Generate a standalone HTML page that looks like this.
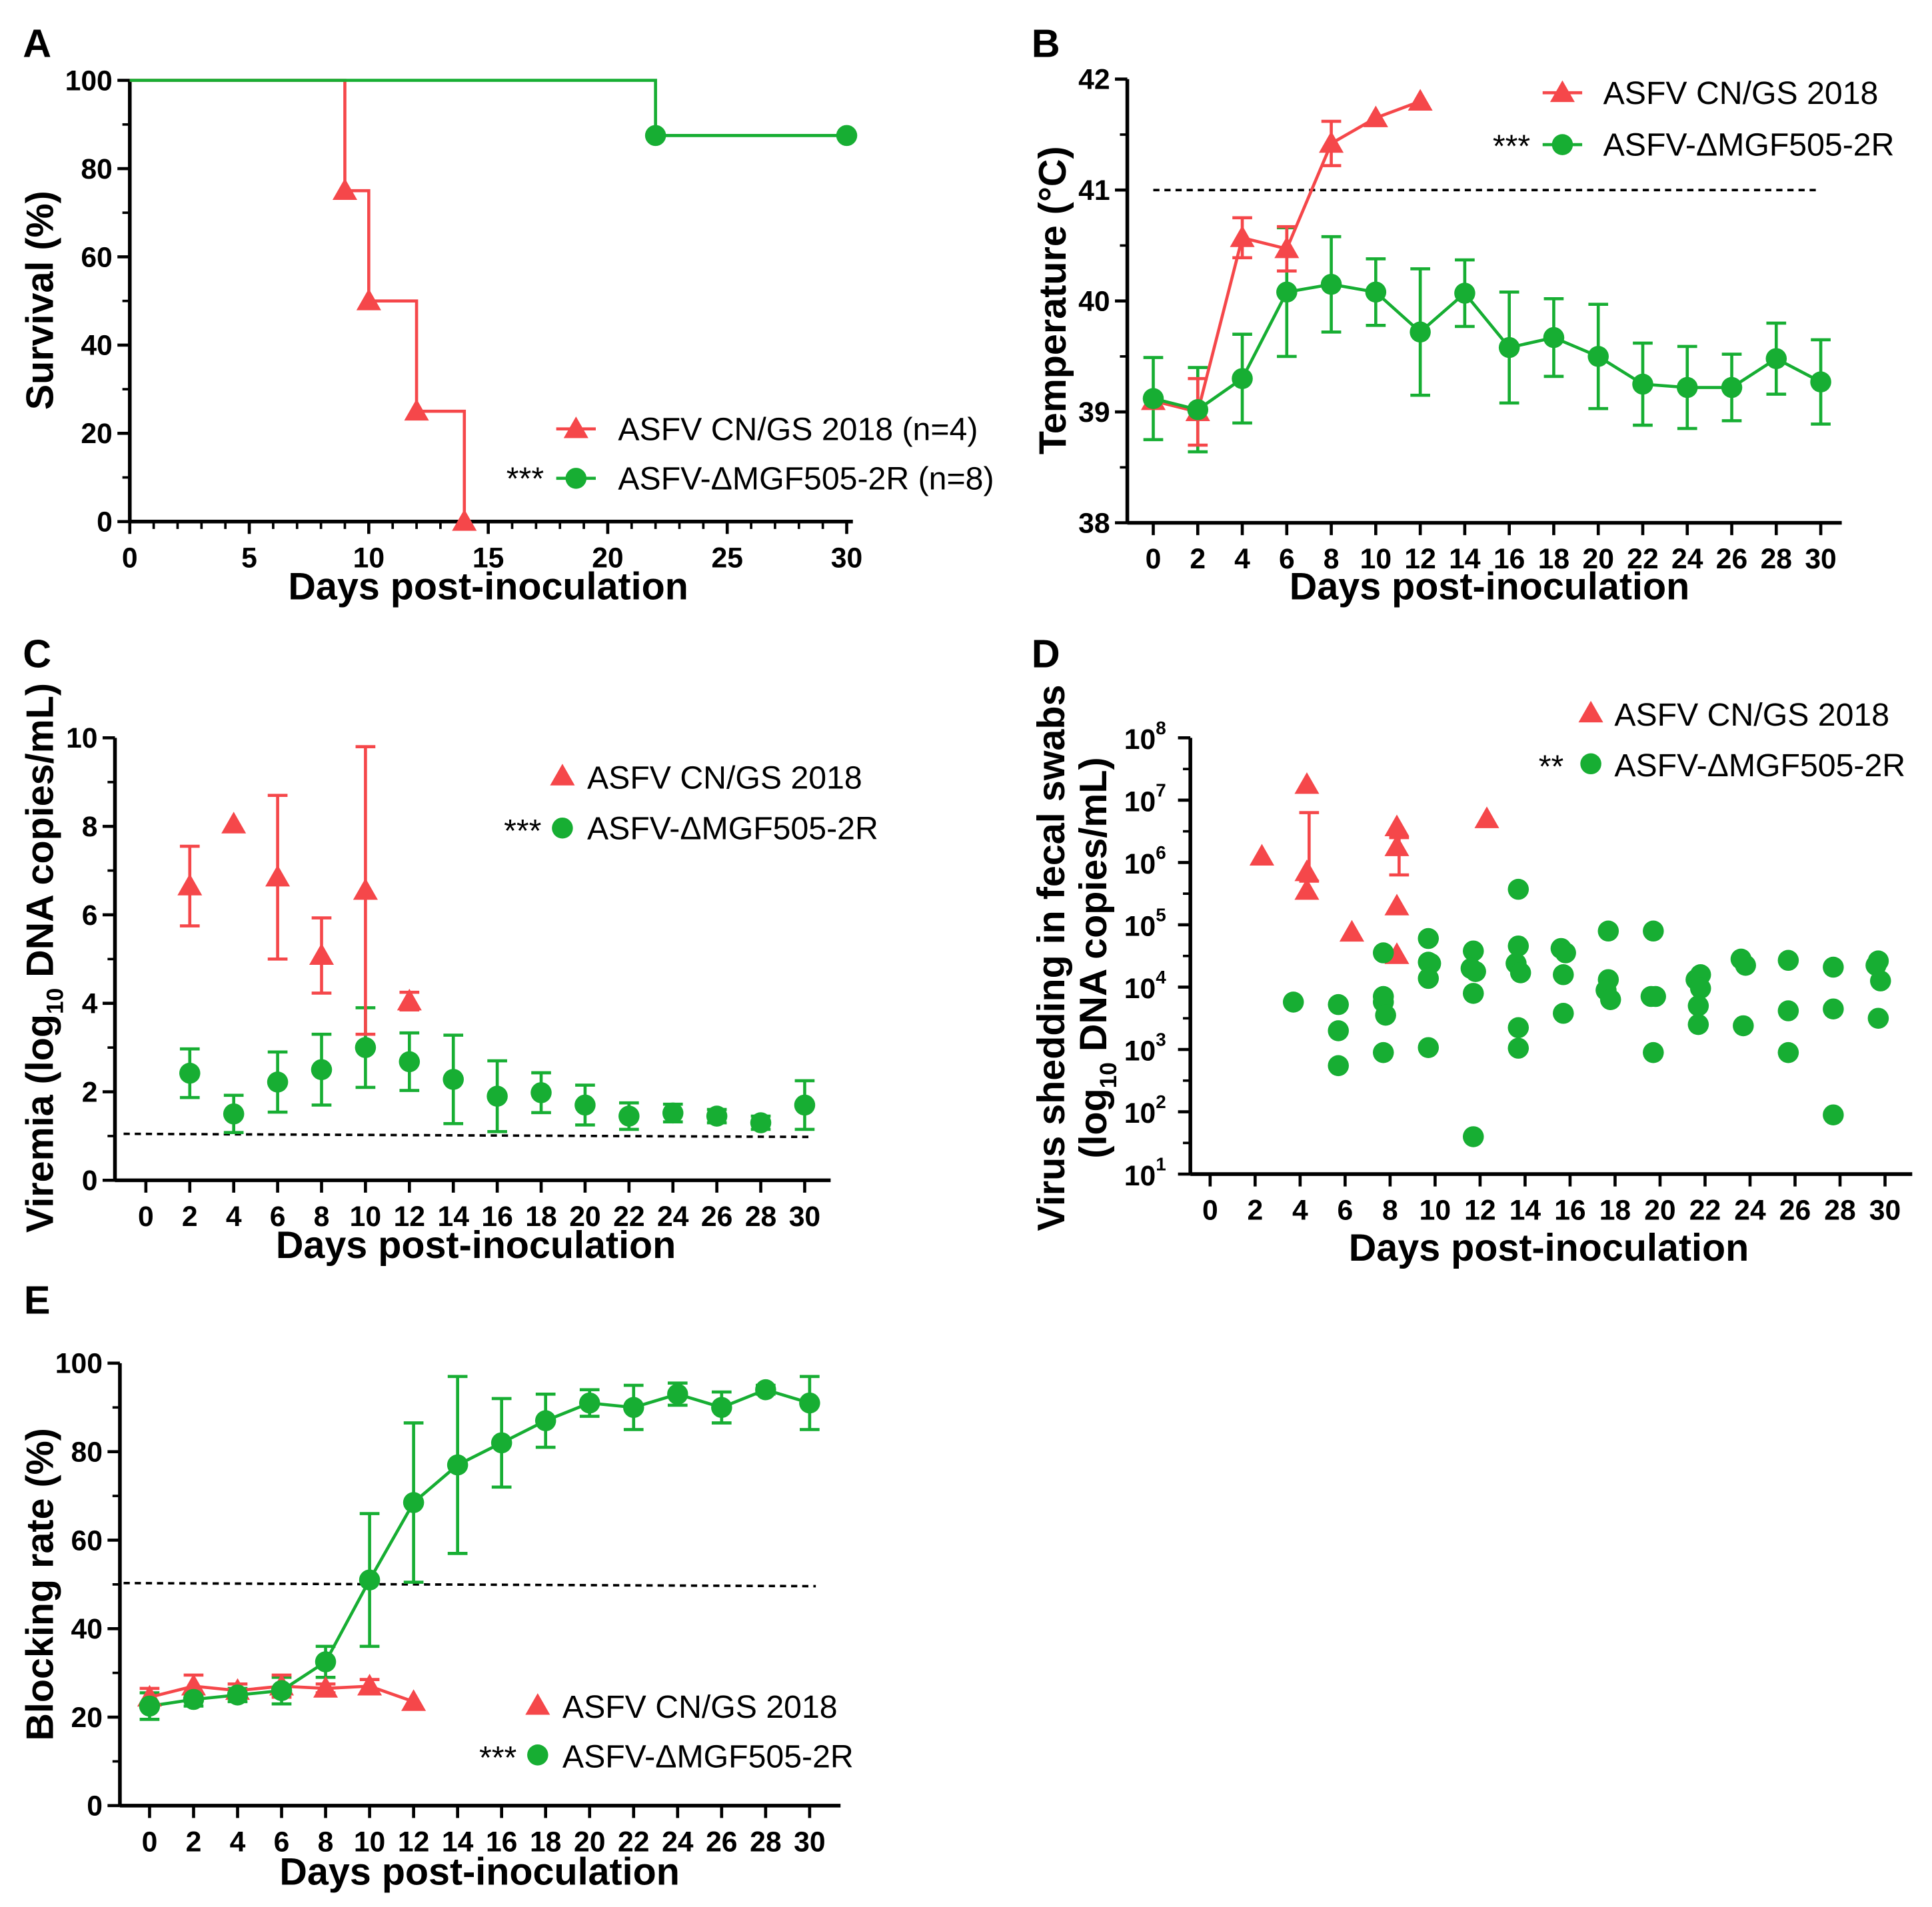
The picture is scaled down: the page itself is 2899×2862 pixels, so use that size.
<!DOCTYPE html>
<html><head><meta charset="utf-8"><style>
html,body{margin:0;padding:0;background:#fff}
svg{display:block}
text{font-family:"Liberation Sans",Arial,sans-serif}
.tk{font-weight:bold;font-size:23px}
.tt{font-weight:bold;font-size:31px}
.lg{font-size:26px}
.pl{font-weight:bold;font-size:32px}
</style></head><body>
<svg id="fig" width="2899" height="2862" viewBox="0 0 1563 1543" xmlns="http://www.w3.org/2000/svg"></svg>
<script>
const RED='#f5474a', GREEN='#17ae33';
// Panel A
const aRedDays=[9,10,12,14], aRedVals=[75,50,25,0];
const aGreenDays=[22,30], aGreenVals=[87.5,87.5];
// Panel B
const bRedDays=[0,2,4,6,8,10,12], bRedVals=[39.1,39.0,40.57,40.47,41.42,41.65,41.8], bRedErr=[0,0.3,0.18,0.2,0.2,0,0];
const bGreenDays=[0,2,4,6,8,10,12,14,16,18,20,22,24,26,28,30];
const bGreenVals=[39.12,39.02,39.3,40.08,40.15,40.08,39.72,40.07,39.58,39.67,39.5,39.25,39.22,39.22,39.48,39.27];
const bGreenErr=[0.37,0.38,0.4,0.58,0.43,0.3,0.57,0.3,0.5,0.35,0.47,0.37,0.37,0.3,0.32,0.38];
// Panel C
const cRedDays=[2,4,6,8,10,12], cRedVals=[6.65,8.05,6.85,5.08,6.55,4.05], cRedErr=[0.9,0,1.85,0.85,3.25,0.2];
const cGreenDays=[2,4,6,8,10,12,14,16,18,20,22,24,26,28,30];
const cGreenVals=[2.42,1.5,2.22,2.5,3.0,2.68,2.28,1.9,1.98,1.7,1.45,1.52,1.45,1.3,1.7];
const cGreenErr=[0.55,0.42,0.68,0.8,0.9,0.65,1.0,0.8,0.45,0.45,0.3,0.2,0.15,0.15,0.55];
// Panel D (day position, log10 value)
const dRedDays=[2.3,4.3,4.3,4.3,6.3,8.3,8.3,8.3,8.3,12.3];
const dRedVals=[6.1,7.25,5.85,5.55,4.88,6.57,6.25,5.3,4.52,6.7];
const dGreenDays=[3.7,5.7,5.7,5.7,7.7,7.7,7.7,7.8,7.7,9.7,9.7,9.8,9.7,9.7,11.7,11.6,11.8,11.7,11.7,13.7,13.7,13.6,13.8,13.7,13.7,15.6,15.8,15.7,15.7,17.7,17.7,17.6,17.8,19.7,19.6,19.8,19.7,21.6,21.8,21.8,21.7,21.7,23.6,23.8,23.7,25.7,25.7,25.7,27.7,27.7,27.7,29.6,29.7,29.8,29.7];
const dGreenVals=[3.76,3.72,3.3,2.74,4.55,3.76,3.85,3.55,2.95,4.78,4.4,4.38,4.14,3.03,4.58,4.3,4.25,3.9,1.6,5.57,4.66,4.38,4.23,3.35,3.02,4.62,4.55,4.2,3.58,4.9,4.12,3.95,3.8,4.9,3.85,3.85,2.95,4.12,4.2,3.98,3.7,3.4,4.45,4.35,3.38,4.43,3.62,2.95,4.32,3.65,1.95,4.35,4.42,4.1,3.5];
// Panel E
const eRedDays=[0,2,4,6,8,10,12], eRedVals=[24.5,27,26,27,26.5,27,23.5], eRedErr=[2,2.5,1.5,2.5,1,1.5,0];
const eGreenDays=[0,2,4,6,8,10,12,14,16,18,20,22,24,26,28,30];
const eGreenVals=[22.5,24,25,26,32.5,51,68.5,77,82,87,91,90,93,90,94,91];
const eGreenErr=[3,1.5,1.5,3,3.5,15,18,20,10,6,3,5,2.5,3.5,1,6];

const svg=document.getElementById('fig');
const NS='http://www.w3.org/2000/svg';
function mk(tag,attrs,txt){const e=document.createElementNS(NS,tag);for(const k in attrs)e.setAttribute(k,attrs[k]);if(txt!==undefined)e.textContent=txt;svg.appendChild(e);return e;}
function lin(d0,d1,p0,p1){return v=>p0+(v-d0)*(p1-p0)/(d1-d0);}
function line(x1,y1,x2,y2,c,w,name,dash){const e=mk('line',{x1,y1,x2,y2,stroke:c,'stroke-width':w});if(dash)e.setAttribute('stroke-dasharray',dash);

return e;}
function txt(x,y,s,cls,name,anchor,rot){const e=mk('text',{x,y,class:cls,'text-anchor':anchor||'middle'},s);if(rot)e.setAttribute('transform',`rotate(-90 ${x} ${y})`);

return e;}
function circ(x,y,c,name){const e=mk('circle',{cx:x,cy:y,r:8.5,fill:c});

return e;}
function tri(x,y,c,name){const s=10;const e=mk('polygon',{points:`${x},${y-s} ${x-s},${y+s*0.75} ${x+s},${y+s*0.75}`,fill:c});

return e;}
function err(x,y,yl,yh,c,name){line(x,yl,x,yh,c,2.5,name);line(x-8,yl,x+8,yl,c,2.5,name+'-cap');line(x-8,yh,x+8,yh,c,2.5,name+'-cap');}
function poly(pts,c,name){const e=mk('polyline',{points:pts.map(p=>p.join(',')).join(' '),fill:'none',stroke:c,'stroke-width':2.5});

}
function axes(o){
 line(o.ax,o.yT,o.ax,o.ay,'#000',3,'y-axis-line');
 line(o.xL,o.ay,o.xR,o.ay,'#000',3,'x-axis-line');
 o.xticks.forEach(t=>{const x=o.X(t);line(x,o.ay,x,o.ay+10,'#000',2.5,'x-tick');txt(x,o.ay+37,String(t),'tk','x-tick-label');});
 (o.minorX||[]).forEach(t=>{const x=o.X(t);line(x,o.ay,x,o.ay+6,'#000',2,'x-minor-tick');});
 o.yticks.forEach((t,i)=>{const y=o.Y(t);line(o.ax-10,y,o.ax,y,'#000',2.5,'y-tick');if(o.ylab){const l=o.ylab[i];
   if(typeof l==='object'){txt(o.ax-28,y+9,l[0],'tk','y-tick-label','end');txt(o.ax-28,y-3,l[1],'tk','y-tick-exponent','start').setAttribute('style','font-size:15px');}
   else txt(o.ax-14,y+8,l,'tk','y-tick-label','end');}});
 (o.minorY||[]).forEach(t=>{const y=o.Y(t);line(o.ax-6,y,o.ax,y,'#000',2,'y-minor-tick');});
}
const ev2=[...Array(16).keys()].map(i=>i*2);

// ---------- A ----------
txt(30,46,'A','pl','panel-label-a','middle');
{const X=lin(0,30,105,685),Y=lin(0,100,422,65);
 axes({ax:105,ay:422,xL:105,xR:690,yT:65,X,Y,xticks:[0,5,10,15,20,25,30],minorX:[...Array(31).keys()].filter(v=>v%5),yticks:[0,20,40,60,80,100],ylab:['0','20','40','60','80','100'],minorY:[10,30,50,70,90]});
 let pts=[[X(0),Y(100)]],prev=100;aRedDays.forEach((d,i)=>{pts.push([X(d),Y(prev)]);pts.push([X(d),Y(aRedVals[i])]);prev=aRedVals[i];});
 poly(pts,RED,'survival-line-wt');
 pts=[[X(0),Y(100)]];prev=100;aGreenDays.forEach((d,i)=>{pts.push([X(d),Y(prev)]);pts.push([X(d),Y(aGreenVals[i])]);prev=aGreenVals[i];});
 poly(pts,GREEN,'survival-line-mutant');
 aRedDays.forEach((d,i)=>tri(X(d),Y(aRedVals[i]),RED,'survival-point-wt'));
 aGreenDays.forEach((d,i)=>circ(X(d),Y(aGreenVals[i]),GREEN,'survival-point-mutant'));
 txt(43,243,'Survival (%)','tt','y-axis-title-a','middle',true);
 txt(395,485,'Days post-inoculation','tt','x-axis-title-a');
 line(450,347,482,347,RED,2.5,'legend-line-wt');tri(466,347,RED,'legend-marker-wt');txt(500,356,'ASFV CN/GS 2018 (n=4)','lg','legend-entry-wt','start');
 txt(440,396,'***','lg','significance-a','end');
 line(450,387,482,387,GREEN,2.5,'legend-line-mutant');circ(466,387,GREEN,'legend-marker-mutant');txt(500,396,'ASFV-ΔMGF505-2R (n=8)','lg','legend-entry-mutant','start');
}
// ---------- B ----------
txt(846,46,'B','pl','panel-label-b','middle');
{const X=lin(0,30,933,1473),Y=lin(38,42,423,64);
 axes({ax:912,ay:423,xL:912,xR:1490,yT:64,X,Y,xticks:ev2,yticks:[38,39,40,41,42],ylab:['38','39','40','41','42'],minorY:[38.5,39.5,40.5,41.5]});
 line(X(0),Y(41),X(30),Y(41),'#000',2,'threshold-41c','5,4');
 bGreenDays.forEach((d,i)=>err(X(d),Y(bGreenVals[i]),Y(bGreenVals[i]-bGreenErr[i]),Y(bGreenVals[i]+bGreenErr[i]),GREEN,'temp-error-mutant'));
 bRedDays.forEach((d,i)=>{if(bRedErr[i])err(X(d),Y(bRedVals[i]),Y(bRedVals[i]-bRedErr[i]),Y(bRedVals[i]+bRedErr[i]),RED,'temp-error-wt');});
 poly(bRedDays.map((d,i)=>[X(d),Y(bRedVals[i])]),RED,'temp-line-wt');
 poly(bGreenDays.map((d,i)=>[X(d),Y(bGreenVals[i])]),GREEN,'temp-line-mutant');
 bRedDays.forEach((d,i)=>tri(X(d),Y(bRedVals[i]),RED,'temp-point-wt'));
 bGreenDays.forEach((d,i)=>circ(X(d),Y(bGreenVals[i]),GREEN,'temp-point-mutant'));
 txt(862,243,'Temperature (°C)','tt','y-axis-title-b','middle',true);
 txt(1205,485,'Days post-inoculation','tt','x-axis-title-b');
 line(1248,75,1280,75,RED,2.5,'legend-line-wt');tri(1264,75,RED,'legend-marker-wt');txt(1297,84,'ASFV CN/GS 2018','lg','legend-entry-wt','start');
 txt(1238,127,'***','lg','significance-b','end');
 line(1248,117,1280,117,GREEN,2.5,'legend-line-mutant');circ(1264,117,GREEN,'legend-marker-mutant');txt(1297,126,'ASFV-ΔMGF505-2R','lg','legend-entry-mutant','start');
}
// ---------- C ----------
txt(30,540,'C','pl','panel-label-c','middle');
{const X=lin(0,30,118,651),Y=lin(0,10,955,597);
 axes({ax:93,ay:955,xL:93,xR:672,yT:597,X,Y,xticks:ev2,yticks:[0,2,4,6,8,10],ylab:['0','2','4','6','8','10'],minorY:[1,3,5,7,9]});
 line(100,Y(1.05),655,Y(0.98),'#000',2,'limit-of-detection','5,4');
 cGreenDays.forEach((d,i)=>err(X(d),Y(cGreenVals[i]),Y(cGreenVals[i]-cGreenErr[i]),Y(cGreenVals[i]+cGreenErr[i]),GREEN,'viremia-error-mutant'));
 cRedDays.forEach((d,i)=>{if(cRedErr[i])err(X(d),Y(cRedVals[i]),Y(cRedVals[i]-cRedErr[i]),Y(cRedVals[i]+cRedErr[i]),RED,'viremia-error-wt');});
 cRedDays.forEach((d,i)=>tri(X(d),Y(cRedVals[i]),RED,'viremia-point-wt'));
 cGreenDays.forEach((d,i)=>circ(X(d),Y(cGreenVals[i]),GREEN,'viremia-point-mutant'));
 const t=mk('text',{x:43,y:775,class:'tt','text-anchor':'middle',transform:'rotate(-90 43 775)'});
 
 
 t.innerHTML='Viremia (log<tspan font-size="19" dy="8">10</tspan><tspan dy="-8"> DNA copies/mL)</tspan>';
 txt(385,1018,'Days post-inoculation','tt','x-axis-title-c');
 tri(455,628,RED,'legend-marker-wt');txt(475,638,'ASFV CN/GS 2018','lg','legend-entry-wt','start');
 txt(438,681,'***','lg','significance-c','end');
 circ(455,670,GREEN,'legend-marker-mutant');txt(475,679,'ASFV-ΔMGF505-2R','lg','legend-entry-mutant','start');
}
// ---------- D ----------
txt(846,540,'D','pl','panel-label-d','middle');
{const X=lin(0,30,979,1525),Y=lin(1,8,950,597);
 axes({ax:963,ay:950,xL:963,xR:1547,yT:597,X,Y,xticks:ev2,yticks:[1,2,3,4,5,6,7,8],ylab:[['10','1'],['10','2'],['10','3'],['10','4'],['10','5'],['10','6'],['10','7'],['10','8']],minorY:[1.5,2.5,3.5,4.5,5.5,6.5,7.5]});
 err(X(4.4),Y(6.8),Y(5.7),Y(6.8),RED,'shedding-error-wt');
 err(X(8.4),Y(6.2),Y(5.8),Y(6.4),RED,'shedding-error-wt');
 dRedDays.forEach((d,i)=>tri(X(d),Y(dRedVals[i]),RED,'shedding-point-wt'));
 dGreenDays.forEach((d,i)=>circ(X(d),Y(dGreenVals[i]),GREEN,'shedding-point-mutant'));
 const t=mk('text',{x:861,y:775,class:'tt','text-anchor':'middle',transform:'rotate(-90 861 775)'},'Virus shedding in fecal swabs');
 
 
 const t2=mk('text',{x:895,y:775,class:'tt','text-anchor':'middle',transform:'rotate(-90 895 775)'});
 
 
 t2.innerHTML='(log<tspan font-size="19" dy="8">10</tspan><tspan dy="-8"> DNA copies/mL)</tspan>';
 txt(1253,1020,'Days post-inoculation','tt','x-axis-title-d');
 tri(1287,577,RED,'legend-marker-wt');txt(1306,587,'ASFV CN/GS 2018','lg','legend-entry-wt','start');
 txt(1265,629,'**','lg','significance-d','end');
 circ(1287,618,GREEN,'legend-marker-mutant');txt(1306,628,'ASFV-ΔMGF505-2R','lg','legend-entry-mutant','start');
}
// ---------- E ----------
txt(30,1063,'E','pl','panel-label-e','middle');
{const X=lin(0,30,121,655),Y=lin(0,100,1461,1103);
 axes({ax:97,ay:1461,xL:97,xR:680,yT:1103,X,Y,xticks:ev2,yticks:[0,20,40,60,80,100],ylab:['0','20','40','60','80','100'],minorY:[10,30,50,70,90]});
 line(100,Y(50.3),660,Y(49.6),'#000',2,'cutoff-50','5,4');
 eGreenDays.forEach((d,i)=>err(X(d),Y(eGreenVals[i]),Y(eGreenVals[i]-eGreenErr[i]),Y(eGreenVals[i]+eGreenErr[i]),GREEN,'blocking-error-mutant'));
 eRedDays.forEach((d,i)=>{if(eRedErr[i])err(X(d),Y(eRedVals[i]),Y(eRedVals[i]-eRedErr[i]),Y(eRedVals[i]+eRedErr[i]),RED,'blocking-error-wt');});
 poly(eRedDays.map((d,i)=>[X(d),Y(eRedVals[i])]),RED,'blocking-line-wt');
 poly(eGreenDays.map((d,i)=>[X(d),Y(eGreenVals[i])]),GREEN,'blocking-line-mutant');
 eRedDays.forEach((d,i)=>tri(X(d),Y(eRedVals[i]),RED,'blocking-point-wt'));
 eGreenDays.forEach((d,i)=>circ(X(d),Y(eGreenVals[i]),GREEN,'blocking-point-mutant'));
 txt(43,1282,'Blocking rate (%)','tt','y-axis-title-e','middle',true);
 txt(388,1525,'Days post-inoculation','tt','x-axis-title-e');
 tri(435,1380,RED,'legend-marker-wt');txt(455,1390,'ASFV CN/GS 2018','lg','legend-entry-wt','start');
 txt(418,1431,'***','lg','significance-e','end');
 circ(435,1420,GREEN,'legend-marker-mutant');txt(455,1430,'ASFV-ΔMGF505-2R','lg','legend-entry-mutant','start');
}
</script>
</body></html>
